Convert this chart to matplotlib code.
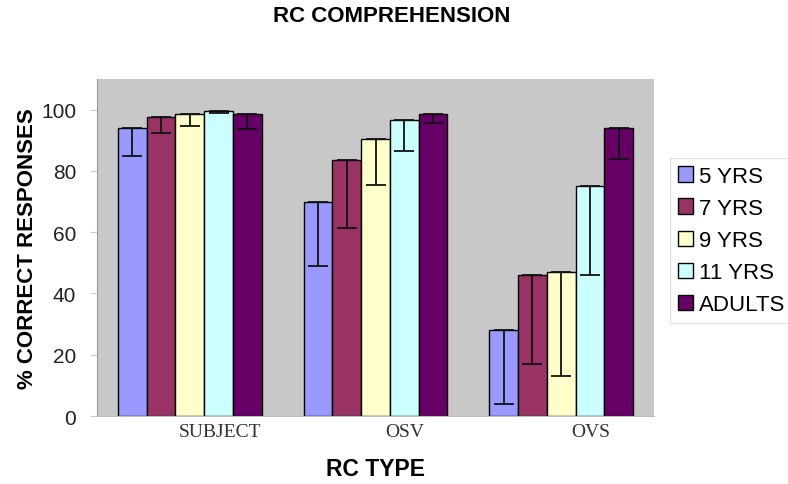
import numpy as np
import matplotlib.pyplot as plt

# datos
categorias = ['SUBJECT', 'OSV', 'OVS']
grupos = ['5 YRS', '7 YRS', '9 YRS', '11 YRS', 'ADULTS']
valores = {
    '5 YRS': [94, 70, 28],
    '7 YRS': [97.5, 83.5, 46],
    '9 YRS': [98.7, 90.5, 47],
    '11 YRS': [99.5, 96.5, 75],
    'ADULTS': [98.7, 98.6, 94],
}
errores = {
    '5 YRS': [9, 21, 24],
    '7 YRS': [5, 22, 29],
    '9 YRS': [4, 15, 34],
    '11 YRS': [0.5, 10, 29],
    'ADULTS': [5, 3, 10],
}
colores = ['#9999FF', '#993366', '#FFFFCC', '#CCFFFF', '#660066']

fig = plt.figure(figsize=(7.88, 4.85), dpi=100)
ax = fig.add_axes([0.1231, 0.1402, 0.7069, 0.6948])
ax.set_facecolor('#C8C8C8')

x = np.arange(len(categorias))
w = 0.155
for i, g in enumerate(grupos):
    pos = x + (i - 2) * w
    v = np.array(valores[g])
    e = np.array(errores[g])
    ax.bar(pos, v, w, color=colores[i], edgecolor='black', linewidth=1.0,
           label=g, zorder=2)
    ax.errorbar(pos, v, yerr=[e, np.zeros_like(e)], fmt='none',
                ecolor='#111111', elinewidth=1.3, capsize=7, capthick=1.3, zorder=3)

ax.set_xlim(-0.5, 2.5)
ax.set_ylim(0, 110)
ax.set_yticks([0, 20, 40, 60, 80, 100])
ax.tick_params(axis='y', labelsize=15, length=5, color='#CCCCCC', pad=10)
for lbl in ax.get_yticklabels():
    lbl.set_family('Liberation Sans')
    lbl.set_color('#222222')

ax.set_xticks(x + 0.16)
ax.set_xticklabels(categorias, family='Liberation Serif', fontsize=14, color='#333333')
ax.tick_params(axis='x', length=0, pad=5)

for s in ['top', 'right']:
    ax.spines[s].set_visible(False)
ax.spines['left'].set_color('#999999')
ax.spines['bottom'].set_color('#BBBBBB')

ax.set_ylabel('% CORRECT RESPONSES', family='Liberation Sans', fontweight='bold',
              fontsize=16, labelpad=2)
ax.set_xlabel('RC TYPE', family='Liberation Sans', fontweight='bold',
              fontsize=16.5, labelpad=12)
fig.text(0.497, 0.967, 'RC COMPREHENSION', family='Liberation Sans',
         fontweight='bold', fontsize=16, ha='center', va='center')

leg = fig.legend(loc='upper left', bbox_to_anchor=(0.850, 0.672), frameon=True,
                 prop={'family': 'Liberation Sans', 'size': 16},
                 handlelength=0.7, handleheight=0.7, handletextpad=0.25,
                 labelspacing=0.5, borderpad=0.35, borderaxespad=0.0,
                 fancybox=False)
leg.get_frame().set_edgecolor('#DDDDDD')
leg.get_frame().set_linewidth(1.0)

fig.savefig('out.png', dpi=100)
